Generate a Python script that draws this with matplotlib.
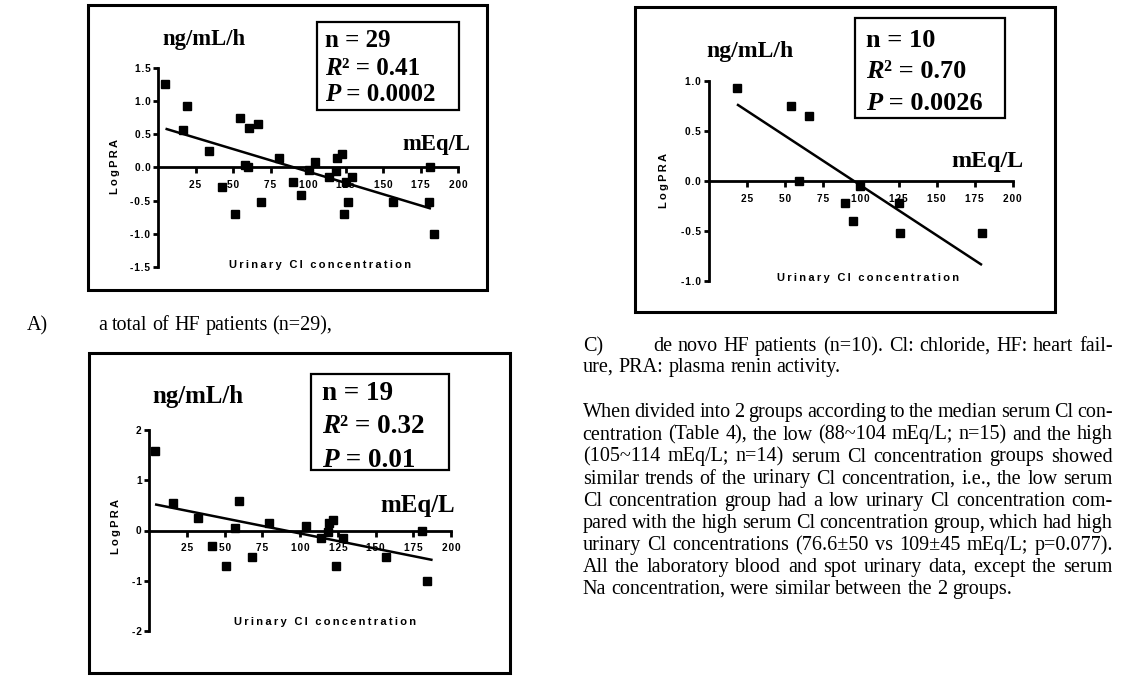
import matplotlib
matplotlib.use("Agg")
import matplotlib.pyplot as plt
from matplotlib.patches import Rectangle

W, H = 1129, 681

# ---------------- data ----------------
x_ticks = [25, 50, 75, 100, 125, 150, 175, 200]
x_ticklabels = ["25", "50", "75", "100", "125", "150", "175", "200"]

# Panel A: total HF patients (n=29)
a_x = [4.9, 19, 16.8, 34, 42.5, 51.6, 54.7, 57.7, 60, 60.8, 66.6, 68.6, 80.4, 90.3,
       95.4, 100.6, 104.6, 114, 118.4, 119.3, 122.5, 125, 124.2, 126.5, 129, 156.9,
       180.6, 181, 184]
a_y = [1.26, 0.93, 0.56, 0.25, -0.29, -0.70, 0.75, 0.04, 0.0, 0.60, 0.65, -0.52, 0.14,
       -0.22, -0.41, -0.04, 0.08, -0.14, -0.05, 0.14, 0.20, -0.22, -0.70, -0.52, -0.14,
       -0.52, -0.52, 0.0, -1.01]
a_fit_x = [5, 182]
a_fit_y = [0.585, -0.62]
a_yticks = [-1.5, -1.0, -0.5, 0.0, 0.5, 1.0, 1.5]
a_yticklabels = ["-1.5", "-1.0", "-0.5", "0.0", "0.5", "1.0", "1.5"]
a_stats = [("", "n = 29"), ("R", "\u00b2 = 0.41"), ("P", " = 0.0002")]

# Panel B (n=19)
b_x = [3.8, 15.7, 32.5, 41.8, 50.6, 56.6, 59.7, 67.8, 79.6, 103.6, 113.6, 118.2, 118.9,
       121.8, 123.8, 128.6, 156.7, 180.5, 183.9]
b_y = [1.59, 0.55, 0.25, -0.30, -0.71, 0.05, 0.59, -0.53, 0.14, 0.08, -0.15, -0.03, 0.15,
       0.20, -0.71, -0.15, -0.53, 0.0, -1.0]
b_fit_x = [3.8, 187.8]
b_fit_y = [0.52, -0.587]
b_yticks = [-2, -1, 0, 1, 2]
b_yticklabels = ["-2", "-1", "0", "1", "2"]
b_stats = [("", "n = 19"), ("R", "\u00b2 = 0.32"), ("P", " = 0.01")]

# Panel C: de novo HF patients (n=10)
c_x = [18.6, 54.4, 66.2, 59.2, 89.9, 95.2, 99.8, 125.4, 126, 179.8]
c_y = [0.93, 0.75, 0.65, 0.0, -0.22, -0.40, -0.05, -0.22, -0.52, -0.52]
c_fit_x = [18.6, 179.8]
c_fit_y = [0.767, -0.84]
c_yticks = [-1.0, -0.5, 0.0, 0.5, 1.0]
c_yticklabels = ["-1.0", "-0.5", "0.0", "0.5", "1.0"]
c_stats = [("", "n = 10"), ("R", "\u00b2 = 0.70"), ("P", " = 0.0026")]

y_label = "LogPRA"
x_label = "Urinary Cl concentration"
unit_y = "ng/mL/h"
unit_x = "mEq/L"

caption_a_tag = "A)"
caption_a = "a total of HF patients (n=29),"
caption_c_tag = "C)"
caption_c_lines = ["de novo HF patients (n=10). Cl: chloride, HF: heart fail-",
                   "ure, PRA: plasma renin activity."]
paragraph = [
    "When divided into 2 groups according to the median serum Cl con-",
    "centration (Table 4), the low (88~104 mEq/L; n=15) and the high",
    "(105~114 mEq/L; n=14) serum Cl concentration groups showed",
    "similar trends of the urinary Cl concentration, i.e., the low serum",
    "Cl concentration group had a low urinary Cl concentration com-",
    "pared with the high serum Cl concentration group, which had high",
    "urinary Cl concentrations (76.6\u00b150 vs 109\u00b145 mEq/L; p=0.077).",
    "All the laboratory blood and spot urinary data, except the serum",
    "Na concentration, were similar between the 2 groups.",
]

# ---------------- drawing ----------------
fig = plt.figure(figsize=(W / 100, H / 100), dpi=100)
fig.patch.set_facecolor("white")
renderer = fig.canvas.get_renderer()

SANS = ["Liberation Sans", "DejaVu Sans"]
SERIF = ["Liberation Serif", "DejaVu Serif"]


def fx(x):
    return x / W


def fy(y):
    return 1 - y / H


def spaced(s, sep="\u200a"):
    return sep.join(s)


def box(x0, y0, x1, y1, lw):
    fig.patches.append(Rectangle((fx(x0), fy(y1)), (x1 - x0) / W, (y1 - y0) / H,
                                 transform=fig.transFigure, fill=False,
                                 edgecolor="black", linewidth=lw))


def panel(rect, ylim, yticks, yticklabels, xs, ys, fx_, fy_):
    x0, x1, ytop, ybot = rect
    ax = fig.add_axes([fx(x0), fy(ybot), (x1 - x0) / W, (ybot - ytop) / H])
    ax.patch.set_visible(False)
    ax.set_xlim(0, 200)
    ax.set_ylim(*ylim)
    for s in ["top", "right"]:
        ax.spines[s].set_visible(False)
    ax.spines["bottom"].set_position(("data", 0))
    ax.spines["left"].set_position(("data", 0))
    for s in ["bottom", "left"]:
        ax.spines[s].set_linewidth(2.0)
    ax.set_xticks(x_ticks)
    ax.set_xticklabels([spaced(t) for t in x_ticklabels], family=SANS,
                       fontweight="bold", fontsize=7.3)
    ax.set_yticks(yticks)
    ax.set_yticklabels([spaced(t) for t in yticklabels], family=SANS,
                       fontweight="bold", fontsize=7.3)
    ax.tick_params(axis="x", direction="out", length=4, width=2, pad=5)
    ax.tick_params(axis="y", direction="out", length=3.5, width=2, pad=2)
    ax.plot(fx_, fy_, "-", color="black", lw=1.8, zorder=4, solid_capstyle="butt")
    ax.plot(xs, ys, "s", color="black", ms=6.3, clip_on=False, zorder=6)
    return ax


def sans_label(x, y, s, rot=0, size=8):
    fig.text(fx(x), fy(y), spaced(s, "\u2009"), family=SANS, fontweight="bold",
             fontsize=size, rotation=rot, ha="center", va="center")


def serif(x, y, s, size, weight="bold", style="normal"):
    return fig.text(fx(x), fy(y), s, family=SERIF, fontweight=weight, fontsize=size,
                    style=style, ha="left", va="baseline")


def stat_line(x, yb, parts, size):
    ital, rest = parts
    if ital:
        t = serif(x, yb, ital, size, style="italic")
        x += t.get_window_extent(renderer).width
    serif(x, yb, rest, size)


# Outer boxes
box(88, 5, 487, 290, 2.2)
box(89, 353, 510, 673, 2.2)
box(635, 7, 1055, 311.5, 2.2)

# Panel A
panel((158, 458, 68, 267), (-1.5, 1.5), a_yticks, a_yticklabels, a_x, a_y, a_fit_x, a_fit_y)
sans_label(115, 167, y_label, rot=90)
sans_label(320, 265, x_label)
serif(162, 45, unit_y, 16.3)
serif(402, 150, unit_x, 16.3)
box(317, 22, 459, 110, 1.6)
for s, yb in zip(a_stats, [46.7, 75, 100.7]):
    stat_line(325, yb, s, 18)

# Panel B
panel((149.3, 451, 430, 631), (-2, 2), b_yticks, b_yticklabels, b_x, b_y, b_fit_x, b_fit_y)
sans_label(116, 527, y_label, rot=90)
sans_label(325, 622, x_label)
serif(152, 403, unit_y, 17.9)
serif(380, 511.7, unit_x, 17.9)
box(311, 374, 449, 470, 1.6)
for s, yb in zip(b_stats, [400, 433.3, 466.7]):
    stat_line(322, yb, s, 19.5)

# Panel C
panel((708.7, 1012.7, 81, 281), (-1.0, 1.0), c_yticks, c_yticklabels, c_x, c_y, c_fit_x, c_fit_y)
sans_label(664, 180, y_label, rot=90)
sans_label(868, 278, x_label)
serif(706, 56.7, unit_y, 17)
serif(951, 166.7, unit_x, 17.3)
box(855, 18, 1005, 118, 1.6)
for s, yb in zip(c_stats, [46.7, 78.3, 110]):
    stat_line(866, yb, s, 19)

# ---------------- body text ----------------
BODY = 14.5


def text_line(s, x0, x1, yb, justify=True):
    words = s.split(" ")
    ts = [fig.text(0, 0, w, family=SERIF, fontsize=BODY, ha="left", va="baseline")
          for w in words]
    widths = [t.get_window_extent(renderer).width for t in ts]
    if justify and len(words) > 1:
        gap = (x1 - x0 - sum(widths)) / (len(words) - 1)
    else:
        gap = BODY * 100 / 72 * 0.25
    x = x0
    for t, w in zip(ts, widths):
        t.set_position((fx(x), fy(yb)))
        x += w + gap


serif(26.7, 330, caption_a_tag, BODY, weight="normal")
text_line(caption_a, 98.3, 333, 330, justify=False)

serif(582.7, 351, caption_c_tag, BODY, weight="normal")
text_line(caption_c_lines[0], 653, 1112.7, 351, justify=True)
text_line(caption_c_lines[1], 582.7, 1112.7, 372, justify=False)

para_baselines = [417, 439.5, 461.5, 483.5, 506, 528, 550, 572, 594]
for i, (line, yb) in enumerate(zip(paragraph, para_baselines)):
    text_line(line, 582.7, 1112.7, yb, justify=(i < len(paragraph) - 1))

fig.savefig("out.png", dpi=100, facecolor="white")
